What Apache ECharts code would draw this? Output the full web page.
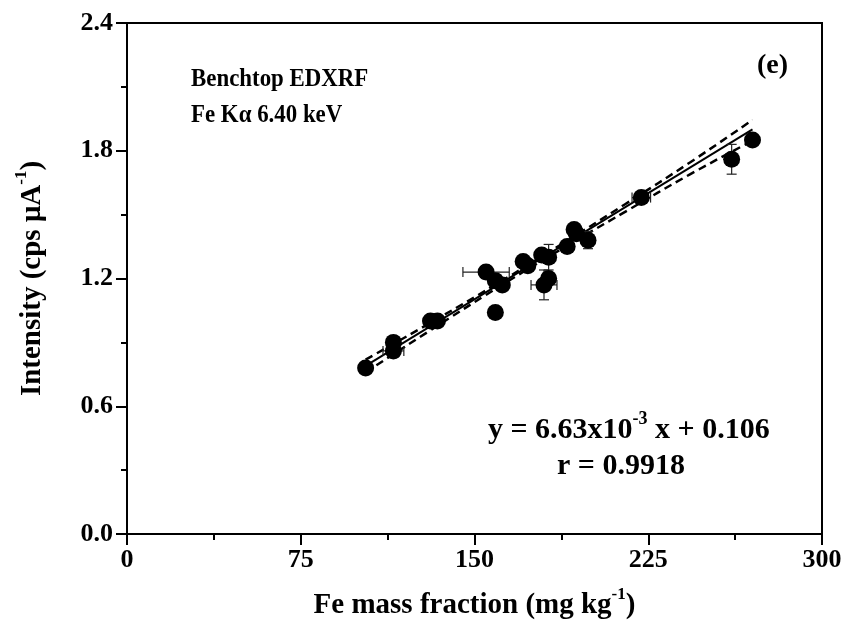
<!DOCTYPE html>
<html>
<head>
<meta charset="utf-8">
<script src="https://cdn.jsdelivr.net/npm/echarts@6/dist/echarts.min.js"></script>
<style>
html,body{margin:0;padding:0;background:#fff;}
#chart{width:845px;height:634px;}
</style>
</head>
<body>
<div id="chart"></div>
<script>
// ---- data ----
const feMass = [103, 115, 115, 131, 134, 155, 159, 159, 162, 171, 173, 179, 182, 180, 182, 190, 193, 194, 199, 222, 261, 270];
const intensity = [0.78, 0.90, 0.86, 1.00, 1.00, 1.23, 1.19, 1.04, 1.17, 1.28, 1.26, 1.31, 1.30, 1.17, 1.20, 1.35, 1.43, 1.41, 1.38, 1.58, 1.76, 1.85];
const feMassErr = [0, 0, 4.5, 0, 0, 10, 0, 0, 0, 0, 0, 0, 0, 5.6, 0, 0, 0, 0, 0, 4, 0, 0];
const intensityErr = [0, 0, 0.03, 0, 0, 0.03, 0, 0, 0, 0, 0, 0, 0.06, 0.07, 0, 0, 0, 0, 0.04, 0, 0.07, 0];

const fitX = [103, 270];
const fitY = [0.79, 1.90];

const bandX = [103, 130, 160, 187, 215, 243, 270];
const bandUpper = [0.819, 0.986, 1.177, 1.357, 1.549, 1.745, 1.945];
const bandLower = [0.759, 0.950, 1.157, 1.335, 1.513, 1.689, 1.847];

const xTicks = [0, 75, 150, 225, 300];
const yTicks = [0.0, 0.6, 1.2, 1.8, 2.4];

// ---- build chart ----
const FONT = '"Liberation Serif", "Times New Roman", serif';
const pts = feMass.map((x, i) => [x, intensity[i], feMassErr[i], intensityErr[i]]);
const zip = (xs, ys) => xs.map((x, i) => [x, ys[i]]);

const chart = echarts.init(document.getElementById('chart'), null, {renderer: 'canvas'});

const errStyle = {stroke: '#222', lineWidth: 1.2};
function renderErr(params, api) {
  const x = api.value(0), y = api.value(1), ex = api.value(2), ey = api.value(3);
  const children = [];
  const cap = 5;
  if (ex > 0) {
    const a = api.coord([x - ex, y]), b = api.coord([x + ex, y]);
    children.push({type: 'line', shape: {x1: a[0], y1: a[1], x2: b[0], y2: b[1]}, style: errStyle});
    children.push({type: 'line', shape: {x1: a[0], y1: a[1] - cap, x2: a[0], y2: a[1] + cap}, style: errStyle});
    children.push({type: 'line', shape: {x1: b[0], y1: b[1] - cap, x2: b[0], y2: b[1] + cap}, style: errStyle});
  }
  if (ey > 0) {
    const a = api.coord([x, y - ey]), b = api.coord([x, y + ey]);
    children.push({type: 'line', shape: {x1: a[0], y1: a[1], x2: b[0], y2: b[1]}, style: errStyle});
    children.push({type: 'line', shape: {x1: a[0] - cap, y1: a[1], x2: a[0] + cap, y2: a[1]}, style: errStyle});
    children.push({type: 'line', shape: {x1: b[0] - cap, y1: b[1], x2: b[0] + cap, y2: b[1]}, style: errStyle});
  }
  return {type: 'group', children: children};
}

function supRich(size) {
  return {
    b: {fontFamily: FONT, fontWeight: 'bold', fontSize: size, lineHeight: size + 5, verticalAlign: 'bottom', color: '#000', fill: '#000'},
    s: {fontFamily: FONT, fontWeight: 'bold', fontSize: Math.round(size * 0.6), lineHeight: Math.round(size * 0.75), verticalAlign: 'top', color: '#000', fill: '#000'}
  };
}

chart.setOption({
  animation: false,
  backgroundColor: '#fff',
  grid: {left: 127, right: 23, top: 23, bottom: 100, show: true, borderColor: '#000', borderWidth: 2, backgroundColor: 'transparent'},
  xAxis: {
    type: 'value', min: xTicks[0], max: xTicks[xTicks.length - 1], interval: 75,
    name: '{b|Fe mass fraction (mg kg}{s|-1}{b|)}',
    nameLocation: 'middle', nameGap: 52,
    nameTextStyle: {rich: supRich(29)},
    axisLine: {show: true, onZero: false, lineStyle: {color: '#000', width: 2}},
    axisTick: {show: true, inside: false, length: 11, lineStyle: {color: '#000', width: 2}},
    minorTick: {show: true, splitNumber: 2, length: 6, lineStyle: {color: '#000', width: 2}},
    splitLine: {show: false},
    axisLabel: {color: '#000', fontFamily: FONT, fontWeight: 'bold', fontSize: 26, margin: 13}
  },
  yAxis: {
    type: 'value', min: yTicks[0], max: yTicks[yTicks.length - 1], interval: 0.6,
    name: '{b|Intensity (cps μA}{s|-1}{b|)}',
    nameLocation: 'middle', nameGap: 80, nameRotate: 90,
    nameTextStyle: {rich: supRich(29)},
    axisLine: {show: true, onZero: false, lineStyle: {color: '#000', width: 2}},
    axisTick: {show: true, inside: false, length: 11, lineStyle: {color: '#000', width: 2}},
    minorTick: {show: true, splitNumber: 2, length: 6, lineStyle: {color: '#000', width: 2}},
    splitLine: {show: false},
    axisLabel: {color: '#000', fontFamily: FONT, fontWeight: 'bold', fontSize: 26, margin: 14,
      formatter: v => v.toFixed(1)}
  },
  series: [
    {type: 'line', data: zip(bandX, bandUpper), smooth: true, symbol: 'none',
     lineStyle: {color: '#000', width: 2.5, type: [8, 5]}, z: 2},
    {type: 'line', data: zip(bandX, bandLower), smooth: true, symbol: 'none',
     lineStyle: {color: '#000', width: 2.5, type: [8, 5]}, z: 2},
    {type: 'line', data: zip(fitX, fitY), symbol: 'none',
     lineStyle: {color: '#000', width: 2}, z: 3},
    {type: 'custom', data: pts, renderItem: renderErr, encode: {x: 0, y: 1}, z: 4},
    {type: 'scatter', data: pts.map(p => [p[0], p[1]]), symbol: 'circle', symbolSize: 17,
     itemStyle: {color: '#000', opacity: 1}, z: 5}
  ],
  graphic: [
    {type: 'text', x: 191, y: 66, scaleX: 0.88, style: {text: 'Benchtop EDXRF', fontFamily: FONT, fontWeight: 'bold', fontSize: 26, fill: '#000'}},
    {type: 'text', x: 191, y: 102, scaleX: 0.88, style: {text: 'Fe Kα 6.40 keV', fontFamily: FONT, fontWeight: 'bold', fontSize: 26, fill: '#000'}},
    {type: 'text', left: 757, top: 52, style: {text: '(e)', fontFamily: FONT, fontWeight: 'bold', fontSize: 28, fill: '#000'}},
    {type: 'text', left: 488, top: 410, style: {text: '{b|y = 6.63x10}{s|-3}{b| x + 0.106}', rich: supRich(30)}},
    {type: 'text', left: 557, top: 451, style: {text: '{b|r = 0.9918}', rich: supRich(30)}}
  ]
});
</script>
</body>
</html>
